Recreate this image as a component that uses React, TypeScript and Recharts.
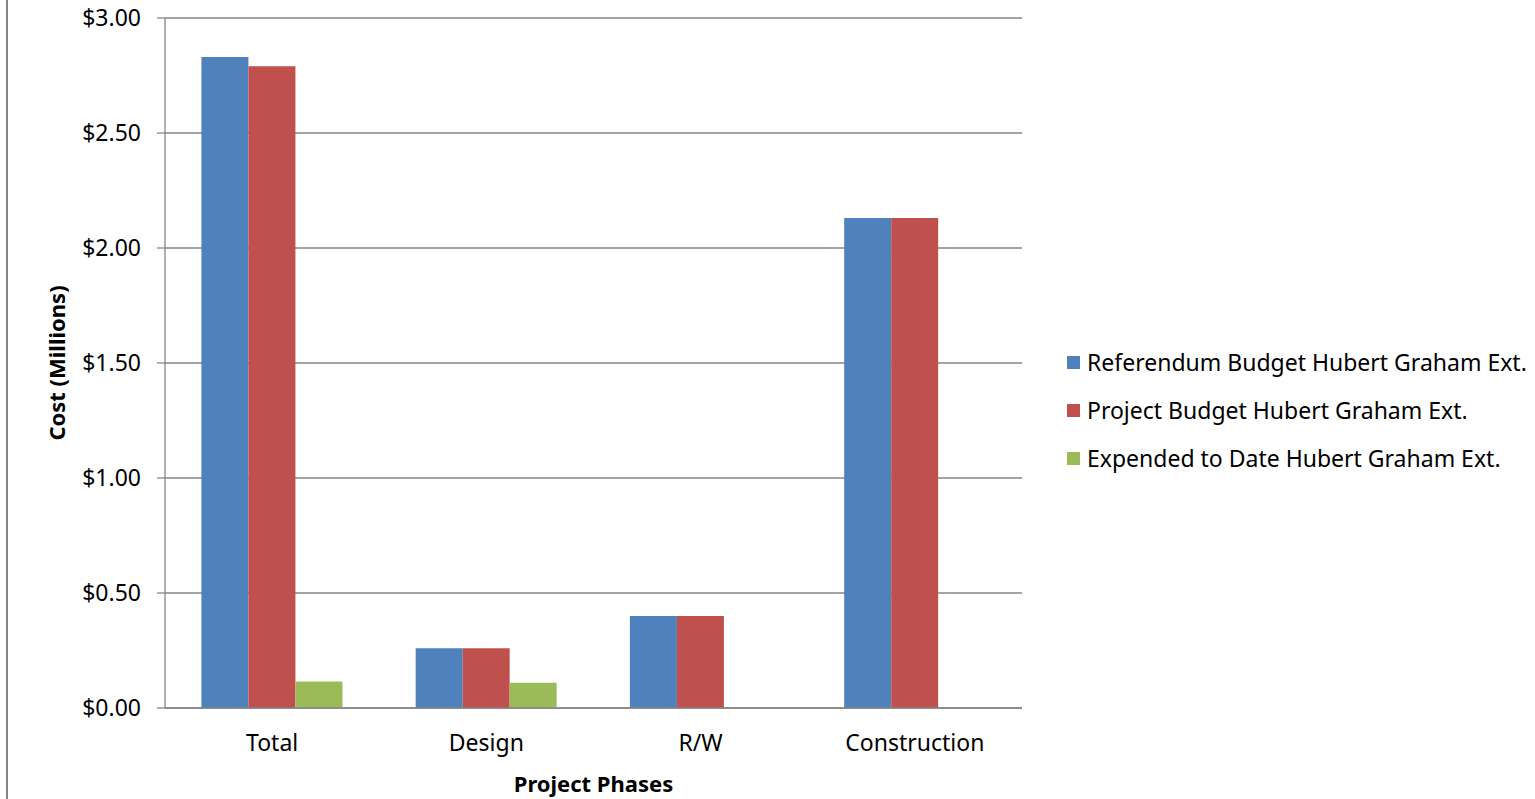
import { BarChart, Bar, XAxis, YAxis, CartesianGrid } from "recharts";

const phases = ["Total", "Design", "R/W", "Construction"];
const referendumBudget = [2.83, 0.26, 0.4, 2.13];
const projectBudget = [2.79, 0.26, 0.4, 2.13];
const expendedToDate = [0.115, 0.11, 0, 0];
const yTicks = [0, 0.5, 1, 1.5, 2, 2.5, 3];

const seriesNames = [
    "Referendum Budget Hubert Graham Ext.",
    "Project Budget Hubert Graham Ext.",
    "Expended to Date Hubert Graham Ext.",
];

const COLORS = ["#4F81BD", "#C0504D", "#9BBB59"];

const data = phases.map((phase, i) => ({
    phase,
    referendum: referendumBudget[i],
    project: projectBudget[i],
    expended: expendedToDate[i],
}));

const FONT = "'Noto Sans', sans-serif";
const GRID = "#868686";

const App = () => {
    return (
        <div style={{ position: "absolute", left: 0, top: 0, width: 1535, height: 799, fontFamily: FONT, background: "#fff", overflow: "hidden" }}>
            <BarChart
                width={1535}
                height={799}
                data={data}
                margin={{ top: 18, right: 513, bottom: 0, left: 0 }}
                barCategoryGap="17%"
                barGap={0}
            >
                <CartesianGrid vertical={false} stroke={GRID} strokeWidth={1.3} />
                <XAxis
                    dataKey="phase"
                    height={91}
                    tickLine={false}
                    tickSize={0}
                    tickMargin={27}
                    axisLine={{ stroke: GRID, strokeWidth: 1.3 }}
                    tick={{ fill: "#000", fontSize: 23, fontFamily: FONT }}
                    label={{ value: "Project Phases", position: "insideBottom", offset: 7, fill: "#000", fontSize: 22, fontWeight: 700, fontFamily: FONT }}
                />
                <YAxis
                    width={165}
                    domain={[0, 3]}
                    ticks={yTicks}
                    interval={0}
                    tickFormatter={(v: number) => `$${v.toFixed(2)}`}
                    tickSize={8}
                    tickMargin={16}
                    tickLine={{ stroke: GRID, strokeWidth: 1.3 }}
                    axisLine={{ stroke: GRID, strokeWidth: 1.3 }}
                    tick={{ fill: "#000", fontSize: 23, fontFamily: FONT }}
                    label={{ value: "Cost (Millions)", angle: -90, position: "center", dx: -25, fill: "#000", fontSize: 22, fontWeight: 700, fontFamily: FONT }}
                />
                <Bar dataKey="referendum" name={seriesNames[0]} fill={COLORS[0]} isAnimationActive={false} />
                <Bar dataKey="project" name={seriesNames[1]} fill={COLORS[1]} isAnimationActive={false} />
                <Bar dataKey="expended" name={seriesNames[2]} fill={COLORS[2]} isAnimationActive={false} />
            </BarChart>
            {/* left edge of the chart frame */}
            <div style={{ position: "absolute", left: 6, top: 0, width: 1.5, height: 799, background: GRID, zIndex: 2 }} />
            {/* legend on the right */}
            <div style={{ position: "absolute", left: 1067, top: 338, zIndex: 2 }}>
                {seriesNames.map((name, i) => (
                    <div key={name} style={{ display: "flex", alignItems: "center", height: 48 }}>
                        <span style={{ width: 13, height: 13, background: COLORS[i], marginRight: 7, display: "inline-block" }} />
                        <span style={{ fontSize: 23, color: "#000", whiteSpace: "nowrap", lineHeight: "30px" }}>{name}</span>
                    </div>
                ))}
            </div>
        </div>
    );
};

export default App;
